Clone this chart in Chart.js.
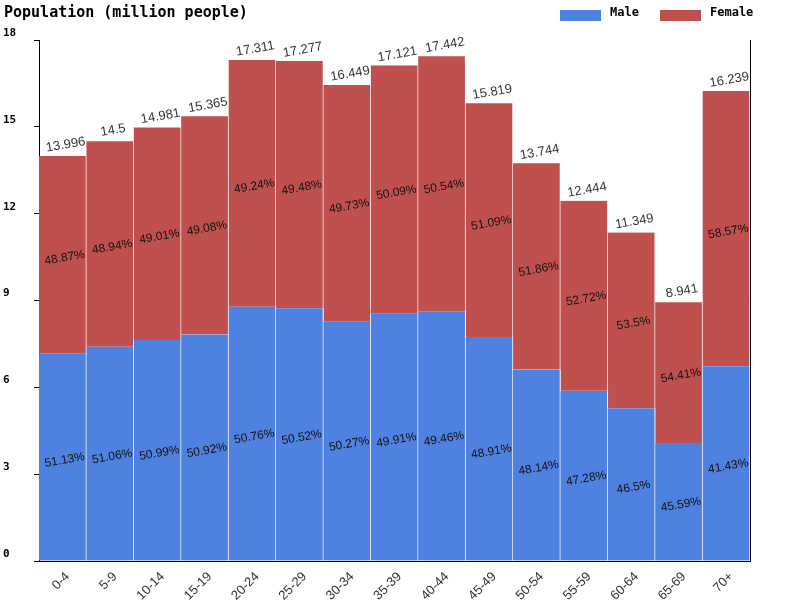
<!DOCTYPE html>
<html>
<head>
<meta charset="utf-8">
<script src="https://cdn.jsdelivr.net/npm/chart.js@4/dist/chart.umd.min.js"></script>
<style>
  html, body { margin: 0; padding: 0; background: #fff; }
  #wrap { width: 800px; height: 600px; }
</style>
</head>
<body>
<div id="wrap"><canvas id="popChart" width="800" height="600"></canvas></div>
<script>
// Age groups and values (million people)
const ageGroups = ["0-4", "5-9", "10-14", "15-19", "20-24", "25-29", "30-34", "35-39", "40-44", "45-49", "50-54", "55-59", "60-64", "65-69", "70+"];
const totals = [13.996, 14.5, 14.981, 15.365, 17.311, 17.277, 16.449, 17.121, 17.442, 15.819, 13.744, 12.444, 11.349, 8.941, 16.239];
const maleValues = [7.156, 7.404, 7.639, 7.824, 8.787, 8.728, 8.269, 8.545, 8.627, 7.737, 6.616, 5.883, 5.277, 4.076, 6.728];
const femaleValues = [6.840, 7.096, 7.342, 7.541, 8.524, 8.549, 8.180, 8.576, 8.815, 8.082, 7.128, 6.561, 6.072, 4.865, 9.511];
const malePct = ["51.13%", "51.06%", "50.99%", "50.92%", "50.76%", "50.52%", "50.27%", "49.91%", "49.46%", "48.91%", "48.14%", "47.28%", "46.5%", "45.59%", "41.43%"];
const femalePct = ["48.87%", "48.94%", "49.01%", "49.08%", "49.24%", "49.48%", "49.73%", "50.09%", "50.54%", "51.09%", "51.86%", "52.72%", "53.5%", "54.41%", "58.57%"];
const yTicks = [0, 3, 6, 9, 12, 15, 18];

const MALE_COLOR = "#4f81e0";
const FEMALE_COLOR = "#c0504e";
const MONO = "'DejaVu Sans Mono', 'Liberation Mono', monospace";
const SANS = "'Liberation Sans', Arial, sans-serif";

// Title, legend and value labels drawn on the canvas
const decorPlugin = {
  id: "decor",
  afterDraw(chart) {
    const ctx = chart.ctx;
    const area = chart.chartArea;
    ctx.save();

    // title
    ctx.fillStyle = "#000";
    ctx.font = "bold 15px " + MONO;
    ctx.textAlign = "left";
    ctx.textBaseline = "middle";
    ctx.fillText("Population (million people)", 4, 13);

    // legend
    const legend = [["Male", MALE_COLOR, 560], ["Female", FEMALE_COLOR, 660]];
    ctx.font = "bold 12px " + MONO;
    legend.forEach(([name, color, x]) => {
      ctx.fillStyle = color;
      ctx.fillRect(x, 10, 41, 11);
      ctx.fillStyle = "#000";
      ctx.fillText(name, x + 50, 13);
    });

    // right border
    ctx.strokeStyle = "#000";
    ctx.lineWidth = 1;
    ctx.beginPath();
    ctx.moveTo(Math.round(area.right) + 0.5, area.top);
    ctx.lineTo(Math.round(area.right) + 0.5, area.bottom);
    ctx.stroke();

    // value labels
    const maleMeta = chart.getDatasetMeta(0);
    const femaleMeta = chart.getDatasetMeta(1);
    const angle = -10 * Math.PI / 180;
    const drawRot = (text, x, y, font, color) => {
      ctx.save();
      ctx.translate(x, y);
      ctx.rotate(angle);
      ctx.font = font;
      ctx.fillStyle = color;
      ctx.textAlign = "center";
      ctx.textBaseline = "middle";
      ctx.fillText(text, 0, 0);
      ctx.restore();
    };
    ageGroups.forEach((g, i) => {
      const m = maleMeta.data[i];
      const f = femaleMeta.data[i];
      drawRot(malePct[i], m.x + 2, (m.y + m.base) / 2 + 3, "12px " + SANS, "#111");
      drawRot(femalePct[i], f.x + 2, (f.y + f.base) / 2 + 3, "12px " + SANS, "#111");
      drawRot(String(totals[i]), f.x + 3, f.y - 11, "13px " + SANS, "#333");
    });
    ctx.restore();
  }
};

new Chart(document.getElementById("popChart"), {
  type: "bar",
  data: {
    labels: ageGroups,
    datasets: [
      {
        label: "Male",
        data: maleValues,
        backgroundColor: MALE_COLOR,
        borderColor: "#fff",
        borderWidth: { top: 0, right: 1, bottom: 0, left: 0 },
        borderSkipped: false,
        barPercentage: 1,
        categoryPercentage: 1,
      },
      {
        label: "Female",
        data: femaleValues,
        backgroundColor: FEMALE_COLOR,
        borderColor: "#fff",
        borderWidth: { top: 0, right: 1, bottom: 0, left: 0 },
        borderSkipped: false,
        barPercentage: 1,
        categoryPercentage: 1,
      },
    ],
  },
  options: {
    responsive: false,
    animation: false,
    layout: { padding: { top: 40, right: 50, left: 3, bottom: 0 } },
    plugins: { legend: { display: false }, title: { display: false }, tooltip: { enabled: false } },
    scales: {
      x: {
        stacked: true,
        grid: { display: false },
        border: { display: true, color: "#000", width: 1 },
        ticks: {
          color: "#333",
          font: { family: SANS, size: 13 },
          minRotation: 45,
          maxRotation: 45,
          padding: 0,
          labelOffset: 5,
        },
        afterFit(scale) { scale.height = 39; },
      },
      y: {
        stacked: true,
        min: 0,
        max: 18,
        afterBuildTicks(scale) { scale.ticks = yTicks.map(v => ({ value: v })); },
        grid: { drawOnChartArea: false, drawTicks: true, tickLength: 5, color: "#000" },
        border: { display: true, color: "#000", width: 1 },
        ticks: {
          color: "#000",
          font: { family: MONO, size: 11, weight: "bold" },
          crossAlign: "far",
          padding: 0,
          labelOffset: -7,
        },
        afterFit(scale) { scale.width = 36; },
      },
    },
  },
  plugins: [decorPlugin],
});
</script>
</body>
</html>
